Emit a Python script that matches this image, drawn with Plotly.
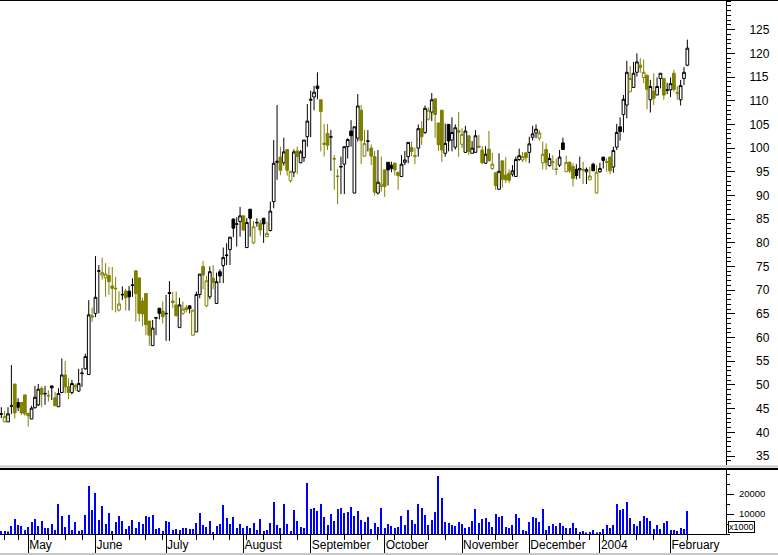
import pandas as pd
import plotly.graph_objects as go

W, H = 778, 555

# ---------------- data ----------------
UK_HOLIDAYS = ["2003-04-18", "2003-04-21", "2003-05-05", "2003-05-26",
               "2003-08-25", "2003-12-25", "2003-12-26", "2004-01-01"]
TRADING_DAYS = [d for d in pd.bdate_range("2003-04-17", "2004-02-09")
                if d.strftime("%Y-%m-%d") not in UK_HOLIDAYS]

OPEN = [43.8, 42.2, 42.2, 45.5, 50.2, 46.3, 46.3, 47.9, 44.0, 42.8,
        45.2, 45.8, 49.3, 48.1, 47.8, 49.8, 47.3, 45.4, 48.4, 52.1,
        49.6, 48.4, 49.9, 48.7, 52.4, 53.4, 52.2, 64.3, 65.1, 74.0,
        73.2, 72.6, 73.1, 70.9, 70.4, 65.8, 69.0, 69.8, 69.8, 71.0,
        74.1, 72.6, 67.7, 69.3, 63.5, 58.3, 64.1, 66.2, 65.6, 65.0,
        69.5, 67.7, 66.9, 62.1, 65.1, 66.3, 66.7, 60.5, 61.2, 69.1,
        75.0, 66.7, 68.6, 72.5, 67.2, 73.9, 75.2, 77.3, 78.6, 85.0,
        83.9, 84.5, 85.7, 79.0, 87.1, 80.0, 84.2, 84.1, 85.2, 81.3,
        82.6, 88.7, 97.0, 98.1, 96.9, 99.7, 93.1, 94.9, 99.4, 96.9,
        98.0, 102.4, 110.1, 110.8, 113.1, 110.2, 101.0, 103.1, 102.3, 97.8,
        94.1, 96.0, 96.6, 100.3, 103.6, 90.5, 102.1, 108.0, 98.3, 101.4,
        100.0, 98.2, 90.5, 91.9, 95.4, 97.0, 96.4, 96.8, 94.9, 94.0,
        97.0, 98.2, 100.1, 98.4, 100.0, 104.1, 103.3, 106.1, 107.6, 110.4,
        105.3, 108.0, 98.9, 105.0, 101.7, 100.2, 103.3, 100.8, 99.1, 102.6,
        98.9, 99.1, 100.4, 99.6, 96.8, 99.8, 95.7, 94.8, 91.3, 97.3,
        94.3, 94.7, 94.5, 94.0, 97.6, 97.5, 99.0, 99.1, 102.3, 103.2,
        102.1, 96.9, 99.7, 96.3, 97.1, 95.6, 96.4, 101.1, 95.0, 97.0,
        96.1, 95.5, 95.4, 95.5, 95.0, 93.3, 96.6, 90.5, 95.0, 98.1,
        97.1, 98.1, 96.0, 100.2, 104.5, 107.1, 109.1, 111.9, 112.8, 116.0,
        117.5, 114.9, 115.4, 110.2, 112.0, 111.2, 114.7, 114.7, 112.2, 112.3,
        115.8, 111.7, 110.2, 114.7, 117.5]
HIGH = [45.3, 44.5, 45.3, 54.2, 50.2, 47.2, 46.3, 47.9, 44.1, 45.6,
        49.8, 50.2, 49.7, 49.8, 48.9, 49.8, 48.5, 49.3, 55.6, 55.05,
        51.4, 51.1, 50.3, 53.4, 53.6, 56.6, 67.9, 66.3, 77.2, 75.3,
        76.9, 75.7, 74.9, 74.9, 72.8, 69.8, 70.8, 70.3, 70.9, 72.5,
        74.1, 72.6, 68.4, 69.3, 63.5, 63.7, 64.3, 66.2, 67.6, 69.0,
        71.9, 69.7, 69.7, 68.4, 67.6, 66.9, 66.7, 65.8, 69.7, 73.4,
        76.2, 73.0, 75.0, 75.3, 73.7, 74.4, 79.0, 79.9, 81.2, 85.2,
        85.4, 87.6, 85.7, 85.2, 87.1, 84.6, 85.2, 84.8, 85.2, 84.4,
        88.7, 101.7, 109.1, 100.3, 102.2, 99.7, 95.1, 99.7, 100.3, 99.6,
        101.7, 109.3, 112.1, 113.1, 116.0, 110.2, 105.1, 105.1, 103.8, 98.5,
        95.6, 98.2, 100.3, 102.1, 105.9, 104.5, 111.4, 109.1, 103.8, 103.8,
        100.8, 99.4, 99.6, 98.2, 95.4, 97.0, 97.1, 97.0, 94.9, 98.5,
        99.4, 101.2, 101.4, 100.1, 105.0, 105.7, 109.0, 108.6, 111.6, 110.4,
        105.3, 108.0, 105.2, 105.0, 106.5, 105.0, 107.6, 104.2, 104.7, 102.6,
        101.5, 103.8, 102.8, 100.4, 100.4, 103.6, 99.0, 94.8, 98.9, 97.5,
        98.1, 95.5, 96.4, 98.2, 99.9, 99.2, 99.2, 102.4, 104.7, 105.0,
        103.8, 101.4, 101.0, 98.9, 98.5, 97.8, 99.6, 102.2, 98.4, 97.2,
        96.8, 96.6, 98.2, 97.1, 95.9, 96.1, 96.9, 96.4, 96.9, 98.1,
        97.8, 98.2, 100.3, 105.1, 106.5, 111.2, 118.4, 117.3, 118.2, 120.0,
        119.0, 118.7, 115.4, 114.4, 115.8, 114.9, 115.8, 114.7, 113.8, 114.9,
        116.5, 113.1, 114.4, 117.1, 122.9]
LOW = [43.0, 42.2, 42.2, 43.9, 42.9, 44.5, 43.7, 43.5, 41.2, 42.8,
       45.0, 45.5, 45.3, 45.8, 46.5, 46.8, 45.6, 45.4, 48.3, 48.2,
       47.0, 48.0, 48.8, 48.5, 49.6, 53.2, 52.2, 63.3, 64.3, 65.1,
       72.2, 68.6, 69.0, 65.8, 65.3, 65.5, 67.9, 65.7, 65.7, 68.6,
       63.4, 63.4, 62.4, 60.5, 58.3, 58.3, 60.5, 63.85, 63.0, 59.3,
       59.3, 66.2, 64.5, 62.1, 64.8, 65.3, 65.1, 60.5, 61.2, 68.3,
       70.2, 66.5, 68.1, 70.2, 67.2, 71.5, 71.5, 75.3, 75.3, 81.2,
       79.2, 81.3, 82.5, 79.0, 81.3, 79.7, 83.4, 81.5, 80.0, 81.2,
       82.4, 87.3, 93.3, 94.3, 96.3, 94.2, 92.7, 93.9, 94.5, 96.8,
       97.1, 100.3, 102.3, 108.0, 110.3, 99.3, 98.2, 99.6, 95.2, 91.2,
       88.2, 90.3, 90.3, 97.8, 100.3, 90.5, 101.4, 96.6, 98.2, 99.3,
       96.4, 90.0, 90.2, 90.8, 89.7, 92.1, 94.9, 94.2, 91.2, 94.0,
       96.4, 96.8, 98.3, 96.6, 98.2, 100.7, 103.0, 105.8, 105.7, 102.2,
       99.4, 97.1, 98.2, 99.3, 99.3, 99.7, 98.2, 100.0, 99.1, 98.5,
       98.9, 99.1, 100.0, 96.6, 96.8, 97.3, 95.4, 91.2, 91.3, 91.7,
       92.6, 92.6, 94.0, 94.0, 97.3, 97.1, 97.1, 96.8, 101.6, 102.1,
       101.6, 95.5, 95.4, 96.1, 95.4, 94.3, 96.0, 99.7, 95.0, 94.7,
       91.9, 93.4, 93.6, 92.4, 92.4, 93.3, 95.2, 90.5, 94.8, 95.7,
       95.0, 94.5, 94.8, 99.6, 101.6, 103.3, 106.3, 111.9, 112.8, 115.1,
       115.9, 113.7, 108.2, 107.5, 109.1, 111.2, 112.6, 110.2, 111.4, 110.8,
       111.9, 110.2, 109.0, 113.3, 117.3]
CLOSE = [43.9, 43.3, 43.9, 45.6, 44.1, 45.3, 44.1, 43.9, 43.5, 45.1,
         47.4, 49.1, 48.0, 48.2, 47.7, 49.4, 45.6, 48.2, 52.1, 49.6,
         48.4, 50.3, 49.6, 50.3, 52.5, 56.0, 64.8, 64.6, 68.5, 74.1,
         73.7, 73.4, 71.8, 70.4, 70.3, 67.1, 69.1, 68.4, 68.6, 71.1,
         69.3, 65.1, 65.0, 62.7, 60.5, 62.0, 64.2, 65.1, 64.4, 65.1,
         69.3, 67.4, 64.6, 66.9, 66.0, 65.9, 66.1, 65.8, 69.1, 73.4,
         73.2, 72.0, 73.9, 71.6, 71.8, 73.0, 76.9, 77.4, 81.2, 83.1,
         84.0, 85.7, 82.7, 84.3, 85.2, 83.4, 84.3, 82.7, 84.0, 82.0,
         86.7, 96.8, 97.2, 95.3, 99.2, 95.3, 95.1, 99.2, 98.2, 99.2,
         101.7, 105.7, 110.3, 111.8, 112.6, 107.7, 100.8, 100.6, 102.4, 97.7,
         94.0, 96.1, 100.3, 101.8, 102.6, 104.5, 108.9, 101.6, 101.0, 101.5,
         98.3, 90.7, 92.8, 92.4, 91.9, 95.4, 95.7, 95.4, 94.2, 96.6,
         97.5, 101.2, 99.3, 98.3, 104.1, 102.4, 108.4, 108.0, 110.2, 107.1,
         100.7, 99.6, 101.0, 101.5, 103.3, 104.3, 103.7, 102.9, 103.6, 99.3,
         100.0, 102.6, 100.2, 96.9, 98.7, 97.3, 96.6, 92.1, 95.1, 93.4,
         93.3, 93.2, 95.2, 97.6, 98.4, 98.2, 98.0, 100.9, 103.0, 104.0,
         103.2, 98.7, 96.9, 97.8, 97.0, 95.5, 98.1, 99.7, 97.0, 95.2,
         93.6, 94.2, 95.7, 95.4, 95.5, 94.1, 95.2, 94.9, 95.7, 97.4,
         97.0, 95.2, 99.5, 103.3, 103.5, 110.3, 116.0, 114.7, 115.8, 118.2,
         117.0, 116.0, 112.4, 113.0, 110.5, 113.0, 115.8, 111.2, 112.3, 113.6,
         112.4, 111.6, 113.2, 116.0, 121.1]
VOLUME = [1500, 1500, 1200, 4000, 7500, 4500, 4000, 2000, 3500, 6000,
          7500, 4000, 6500, 3000, 3000, 5000, 2000, 15000, 9000, 3500,
          9500, 2000, 6000, 1500, 2000, 9500, 24000, 12000, 20500, 7000,
          14000, 5000, 10500, 1500, 6000, 9000, 6500, 2500, 4000, 7000,
          3000, 6000, 5000, 9000, 8500, 9500, 2500, 3000, 1500, 6500,
          6000, 2000, 2500, 2000, 3000, 3000, 2500, 2500, 5500, 10500,
          4500, 3500, 6500, 1000, 4000, 5000, 14500, 8000, 5000, 8500,
          3000, 5000, 3000, 4000, 3000, 5500, 2000, 7500, 1500, 2000,
          5500, 16000, 4500, 3000, 15000, 5000, 1500, 12000, 6500, 3500,
          3000, 25500, 12500, 13000, 11500, 15000, 8500, 4500, 10000, 6500,
          12500, 13000, 10500, 11000, 13500, 9000, 11500, 7000, 6000, 8500,
          2500, 5500, 3500, 13000, 3000, 5000, 4000, 3000, 3500, 9000,
          4500, 12000, 7000, 5000, 15000, 13000, 9500, 4500, 7000, 11000,
          29000, 18000, 6000, 5500, 4500, 4000, 6000, 5000, 3000, 3500,
          6500, 12500, 5500, 7500, 8000, 6000, 3500, 10000, 8500, 9000,
          3500, 3000, 4500, 10000, 8000, 2000, 1500, 6000, 8500, 8000,
          6000, 12500, 2000, 4000, 5000, 4000, 5500, 4000, 3000, 3000,
          5500, 3000, 1000, 1500, 500, 1000, 2000, 500, 1000, 2500,
          4500, 3000, 4500, 15000, 12000, 12500, 16000, 8000, 5000, 4000,
          6500, 9000, 8000, 6500, 2500, 4500, 2500, 5500, 6500, 2000,
          2000, 1500, 3000, 2500, 11500]

MONTH_LABELS = ["May", "June", "July", "August", "September", "October",
                "November", "December", "2004", "February"]
PRICE_TICKS = list(range(35, 130, 5))
VOLUME_TICKS = [10000, 20000]
VOLUME_LABELS = ["10000", "20000"]

# ---------------- derived ----------------
n = len(CLOSE)
idx = list(range(n))

month_pos = [i for i in range(1, n) if TRADING_DAYS[i].month != TRADING_DAYS[i - 1].month]
week_pos = [i for i in range(1, n)
            if TRADING_DAYS[i].isocalendar()[1] != TRADING_DAYS[i - 1].isocalendar()[1]
            and i not in month_pos]

up_sel = [i for i in idx if i == 0 or CLOSE[i] >= CLOSE[i - 1]]
dn_sel = [i for i in idx if i > 0 and CLOSE[i] < CLOSE[i - 1]]

OLIVE = "#808000"
FONT = "Liberation Sans, Arial, sans-serif"


def px_y(y):
    return 1 - y / H


def candles(sel, color):
    return go.Candlestick(
        x=[idx[i] for i in sel],
        open=[OPEN[i] for i in sel], high=[HIGH[i] for i in sel],
        low=[LOW[i] for i in sel], close=[CLOSE[i] for i in sel],
        increasing=dict(line=dict(color=color, width=1), fillcolor="white"),
        decreasing=dict(line=dict(color=color, width=1), fillcolor=color),
        whiskerwidth=0, xaxis="x", yaxis="y", showlegend=False, hoverinfo="skip")


fig = go.Figure()
fig.add_trace(candles(up_sel, "black"))
fig.add_trace(candles(dn_sel, OLIVE))
fig.add_trace(go.Bar(x=idx, y=VOLUME, width=0.3, xaxis="x2", yaxis="y2",
                     marker=dict(color="#0000ff", line=dict(width=0)),
                     showlegend=False, hoverinfo="skip"))


def price_at(ypx):
    return 35 + (456 - ypx) / 4.737


XR = 726 / W
x_range = [-1.3 / 3.363, (726 - 1.3) / 3.363]

price_text = [("\u2007" + str(v)) if v < 100 else str(v) for v in PRICE_TICKS]

fig.update_layout(
    width=W, height=H, margin=dict(l=0, r=0, t=0, b=0),
    paper_bgcolor="white", plot_bgcolor="white", showlegend=False,
    font=dict(family=FONT, color="black", size=12),
    boxgap=0.05, boxgroupgap=0.15,
    xaxis=dict(domain=[0, XR], range=x_range, anchor="y",
               showticklabels=False, ticks="", showgrid=False, zeroline=False,
               showline=False, rangeslider=dict(visible=False), fixedrange=True),
    xaxis2=dict(domain=[0, XR], range=x_range, anchor="y2",
                showline=True, linecolor="black", linewidth=1,
                ticks="outside", tickvals=month_pos, ticktext=MONTH_LABELS,
                ticklen=20, tickwidth=1, tickcolor="black",
                ticklabelposition="outside right", ticklabelstandoff=0,
                tickfont=dict(size=12, family=FONT, color="black"),
                minor=dict(tickvals=week_pos, ticklen=5, ticks="outside",
                           tickcolor="black", tickwidth=1, showgrid=False),
                showgrid=False, zeroline=False),
    yaxis=dict(domain=[px_y(465), px_y(1)], range=[price_at(465), price_at(1)],
               side="right", anchor="x", showline=True, linecolor="black", linewidth=1,
               ticks="outside", ticklen=8, tickwidth=1, tickcolor="black",
               tickvals=PRICE_TICKS, ticktext=price_text,
               tickfont=dict(size=12, family=FONT, color="black"),
               ticklabelstandoff=12,
               minor=dict(dtick=1, ticklen=4, ticks="outside", tickcolor="black", tickwidth=1,
                          showgrid=False),
               showgrid=False, zeroline=False),
    yaxis2=dict(domain=[px_y(534), px_y(469.5)], range=[0, (534 - 469.5) * 500],
                side="right", anchor="x2", showline=True, linecolor="black", linewidth=1,
                ticks="outside", ticklen=7, tickwidth=1, tickcolor="black",
                tickvals=VOLUME_TICKS, ticktext=VOLUME_LABELS,
                tickfont=dict(size=9.5, family=FONT, color="black"),
                ticklabelstandoff=3,
                minor=dict(dtick=5000, ticklen=3, ticks="outside", tickcolor="black", tickwidth=1,
                           showgrid=False),
                showgrid=False, zeroline=False),
)

shapes = [
    dict(type="line", xref="paper", yref="paper", x0=0, x1=1, y0=px_y(0.5), y1=px_y(0.5),
         line=dict(color="black", width=1)),
    dict(type="line", xref="paper", yref="paper", x0=0, x1=1, y0=px_y(466.5), y1=px_y(466.5),
         line=dict(color="#c8c8c8", width=2)),
    dict(type="line", xref="paper", yref="paper", x0=0, x1=1, y0=px_y(469), y1=px_y(469),
         line=dict(color="black", width=2)),
    dict(type="line", xref="paper", yref="paper", x0=0, x1=1, y0=px_y(554), y1=px_y(554),
         line=dict(color="#c8c8c8", width=2)),
]
fig.update_layout(shapes=shapes)

fig.add_annotation(xref="paper", yref="paper", x=728 / W, y=px_y(527), xanchor="left",
                   yanchor="middle", text="x1000", showarrow=False,
                   font=dict(size=9, family=FONT, color="black"),
                   bordercolor="black", borderwidth=1, borderpad=0, bgcolor="white")

fig.write_html("out.html", config={"displayModeBar": False},
               post_script="document.body.style.margin='0';document.body.style.overflow='hidden';")
